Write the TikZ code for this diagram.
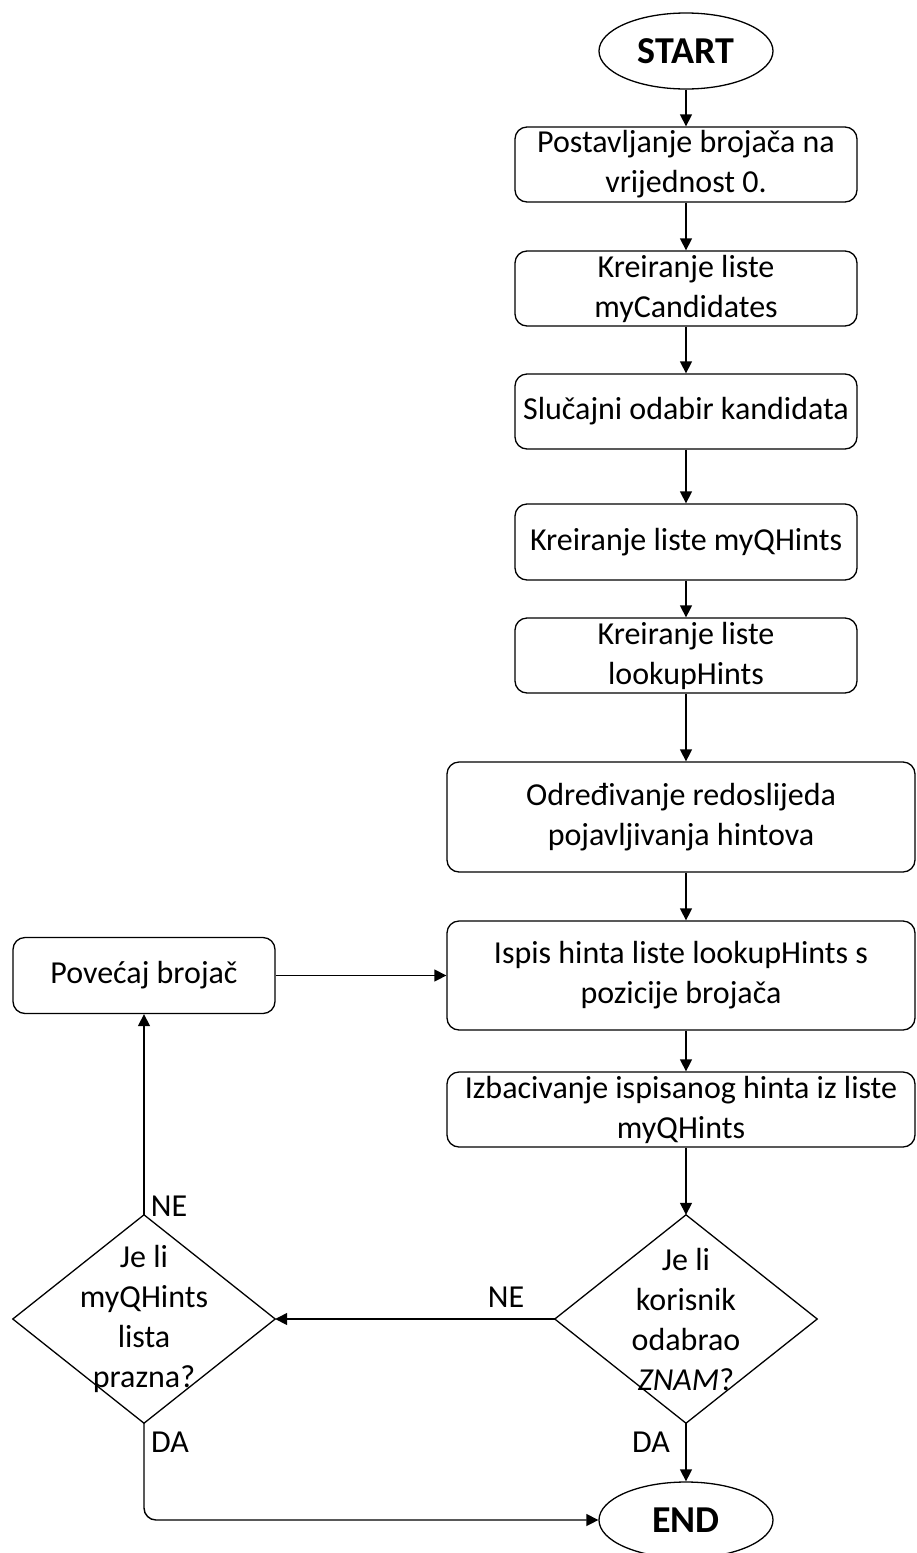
\documentclass[tikz,border=0pt]{standalone}
\usepackage{fontspec}
\setmainfont{Carlito}
\usetikzlibrary{arrows.meta,shapes.geometric}
\begin{document}
\begin{tikzpicture}[x=1pt,y=-1pt,
  every node/.style={font=\fontsize{32}{40}\selectfont, inner sep=0pt, align=center},
  procbox/.style={draw, line width=1.3pt, rounded corners=12pt},
  termnode/.style={draw, ellipse, line width=1.3pt, minimum width=174pt, minimum height=76pt, font=\fontsize{38}{44}\selectfont\bfseries},
  decnode/.style={minimum width=262pt, minimum height=208pt},
  conn/.style={line width=1.4pt, -{Triangle[length=12pt,width=12pt]}},
  lbl/.style={font=\fontsize{32}{36}\selectfont}
]
\useasboundingbox (0,0) rectangle (916,1553);

\node[termnode] (start) at (686,51) {START};
\node[procbox, minimum width=342pt, minimum height=75pt] (b1) at (686,164.5) {Postavljanje brojača na\\vrijednost 0.};
\node[procbox, minimum width=342pt, minimum height=75pt] (b2) at (686,288.5) {Kreiranje liste\\myCandidates};
\node[procbox, minimum width=342pt, minimum height=75pt] (b3) at (686,411.5) {Slučajni odabir kandidata};
\node[procbox, minimum width=342pt, minimum height=76pt] (b4) at (686,542) {Kreiranje liste myQHints};
\node[procbox, minimum width=342pt, minimum height=75pt] (b5) at (686,655.5) {Kreiranje liste\\lookupHints};
\node[procbox, minimum width=468pt, minimum height=110pt] (b6) at (681,817) {Određivanje redoslijeda\\pojavljivanja hintova};
\node[procbox, minimum width=468pt, minimum height=109pt] (b7) at (681,975.5) {Ispis hinta liste lookupHints s\\pozicije brojača};
\node[procbox, minimum width=468pt, minimum height=75pt] (b8) at (681,1109.5) {Izbacivanje ispisanog hinta iz liste\\myQHints};
\node[procbox, minimum width=262pt, minimum height=76pt] (inc) at (144,975.5) {Povećaj brojač};

\node[decnode] (d1) at (686,1319) {Je li\\korisnik\\odabrao\\\textit{ZNAM}?};
\draw[line width=1.3pt] (d1.north) -- (d1.east) -- (d1.south) -- (d1.west) -- cycle;
\node[decnode] (d2) at (144,1319) {Je li\\myQHints\\lista\\prazna?};
\draw[line width=1.3pt] (d2.north) -- (d2.east) -- (d2.south) -- (d2.west) -- cycle;

\node[termnode] (end) at (686,1520) {END};

\node[lbl] (ne1) at (169,1206) {NE};
\node[lbl] (ne2) at (506,1297) {NE};
\node[lbl] (da1) at (170,1442) {DA};
\node[lbl] (da2) at (651,1442) {DA};

\draw[conn] (start.south) -- (b1.north);
\draw[conn] (b1.south) -- (b2.north);
\draw[conn] (b2.south) -- (b3.north);
\draw[conn] (b3.south) -- (b4.north);
\draw[conn] (b4.south) -- (b5.north);
\draw[conn] (b5.south) -- (b5.south |- b6.north);
\draw[conn] (b6.south -| b5.south) -- (b7.north -| b5.south);
\draw[conn] (b7.south -| b5.south) -- (b8.north -| b5.south);
\draw[conn] (b8.south -| d1.north) -- (d1.north);
\draw[conn] (d1.south) -- (end.north);
\draw[conn] (d1.west) -- (d2.east);
\draw[conn] (d2.north) -- (inc.south);
\draw[conn] (inc.east) -- (inc.east -| b7.west);
\draw[conn, rounded corners=12pt] (d2.south) |- (end.west);
\end{tikzpicture}
\end{document}
